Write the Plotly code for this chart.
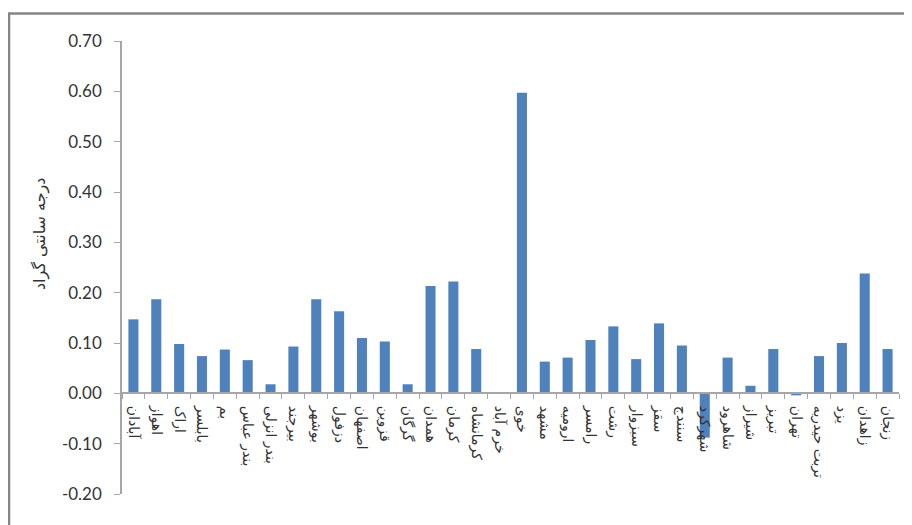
import plotly.graph_objects as go

cities = ["آبادان", "اهواز", "اراک", "بابلسر", "بم", "بندر عباس", "بندر انزلی", "بیرجند", "بوشهر", "دزفول",
          "اصفهان", "قزوین", "گرگان", "همدان", "کرمان", "کرمانشاه", "خرم آباد", "خوی", "مشهد", "ارومیه",
          "رامسر", "رشت", "سبزوار", "سقز", "سنندج", "شهرکرد", "شاهرود", "شیراز", "تبریز", "تهران",
          "تربت حیدریه", "یزد", "زاهدان", "زنجان"]
values = [0.147, 0.187, 0.098, 0.074, 0.087, 0.066, 0.018, 0.093, 0.187, 0.163,
          0.110, 0.103, 0.018, 0.213, 0.222, 0.088, 0.0, 0.597, 0.063, 0.071,
          0.106, 0.133, 0.068, 0.139, 0.095, -0.088, 0.071, 0.015, 0.088, -0.004,
          0.074, 0.100, 0.238, 0.088]
y_ticks = [-0.2, -0.1, 0, 0.1, 0.2, 0.3, 0.4, 0.5, 0.6, 0.7]
y_labels = ["-0.20", "-0.10", "0.00", "0.10", "0.20", "0.30", "0.40", "0.50", "0.60", "0.70"]
y_title = "درجه سانتی گراد"

# The page adds an 8px body margin, so the figure is laid out in page px minus 8
OFF = 8
W, H = 912 - OFF, 525 - OFF
L, R, T, B = 122 - OFF, 899 - OFF, 41 - OFF, 494 - OFF
AXIS = "#a6a6a6"
TEXT = "#333333"


def px(x):
    return (x - OFF - L) / (R - L)


def py(y):
    return (B - (y - OFF)) / (B - T)


fig = go.Figure(go.Bar(x=cities, y=values, marker=dict(color="#4f81bd", line=dict(width=0)), width=0.44))
fig.update_layout(
    width=W, height=H, autosize=False,
    margin=dict(l=L, r=W - R, t=T, b=H - B, autoexpand=False),
    paper_bgcolor="white", plot_bgcolor="white", showlegend=False,
    font=dict(family="Lato, DejaVu Sans", color=TEXT),
    xaxis=dict(type="category", range=[-0.5, 33.5], tickmode="array", tickvals=cities, ticktext=cities,
               tickson="boundaries", ticks="outside", ticklen=5, tickcolor=AXIS, tickwidth=1,
               showline=True, linecolor=AXIS, linewidth=1.5, showgrid=False, zeroline=False,
               anchor="free", position=0.2 / 0.9, ticklabelstandoff=9,
               tickangle=90, tickfont=dict(family="DejaVu Sans", size=14, color=TEXT)),
    yaxis=dict(range=[-0.2, 0.7], tickmode="array", tickvals=y_ticks, ticktext=y_labels,
               ticks="outside", ticklen=6, tickcolor=AXIS, tickwidth=1, showline=True, linecolor=AXIS,
               linewidth=1.5, showgrid=False, zeroline=False, ticklabelstandoff=9,
               tickfont=dict(size=17, color=TEXT)),
    annotations=[dict(text=y_title, textangle=-90, showarrow=False, xref="paper", yref="paper",
                      x=px(40), y=py(234), xanchor="center", yanchor="middle",
                      font=dict(family="DejaVu Sans", size=16, color=TEXT))],
    shapes=[dict(type="path", xref="paper", yref="paper", layer="above",
                 path="M %.4f %.4f L %.4f %.4f L %.4f %.4f" % (
                     px(9), py(540), px(9), py(13.5), px(930), py(13.5)),
                 line=dict(color="#868686", width=2.5))],
)
fig.write_html("out.html")
